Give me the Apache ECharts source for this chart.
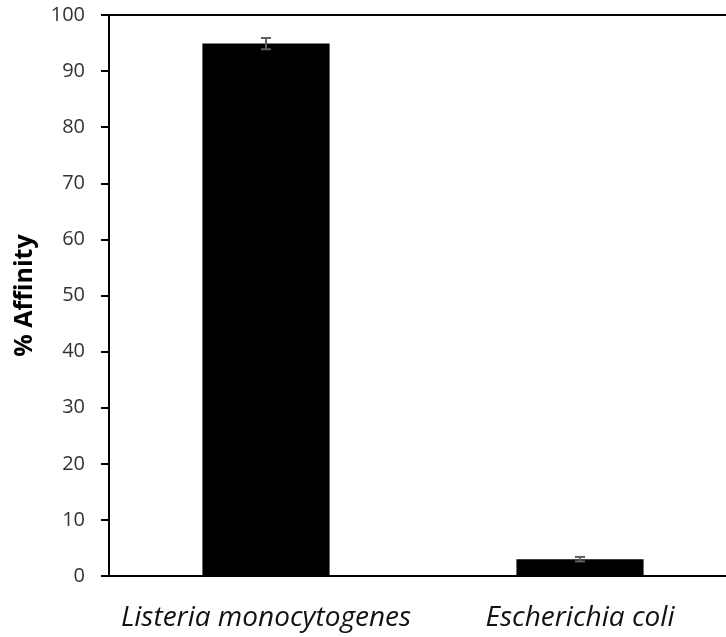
<!DOCTYPE html>
<html>
<head>
<meta charset="utf-8">
<script src="https://cdn.jsdelivr.net/npm/echarts@6/dist/echarts.min.js"></script>
<style>
  html, body { margin: 0; padding: 0; background: #fff; overflow: hidden; }
  /* the original figure is cropped on the right, so the chart is a bit wider than the window */
  #chart { width: 737px; height: 637px; }
</style>
</head>
<body>
<div id="chart"></div>
<script>
let myChart = echarts.init(document.getElementById('chart'));

// data
const categories = ['Listeria monocytogenes', 'Escherichia coli'];
const affinity = [94.9, 3.0];
const errors = [1.0, 0.4];

const errorData = categories.map((c, i) => [i, affinity[i] - errors[i], affinity[i] + errors[i]]);

let option = {
    animation: false,
    grid: {
        left: 109,
        top: 15,
        bottom: 61,
        right: 0,
        show: true,
        borderColor: '#000',
        borderWidth: 2
    },
    xAxis: {
        type: 'category',
        data: categories,
        axisLine: { lineStyle: { color: '#000', width: 2 } },
        axisTick: { show: false },
        axisLabel: {
            interval: 0,
            margin: 28,
            fontFamily: 'Open Sans',
            fontStyle: 'italic',
            fontSize: 28,
            color: '#111'
        }
    },
    yAxis: {
        type: 'value',
        min: 0,
        max: 100,
        interval: 10,
        name: '% Affinity',
        nameLocation: 'middle',
        nameGap: 72,
        nameTextStyle: {
            fontFamily: 'Open Sans',
            fontWeight: 'bold',
            fontSize: 25,
            color: '#000'
        },
        axisLine: { show: true, lineStyle: { color: '#000', width: 2 } },
        axisTick: { show: true, length: 8, lineStyle: { color: '#000', width: 2 } },
        splitLine: { show: false },
        axisLabel: {
            margin: 24,
            fontFamily: 'Open Sans',
            fontSize: 20,
            color: '#333'
        }
    },
    series: [
        {
            type: 'bar',
            data: affinity,
            barWidth: '40.5%',
            itemStyle: { color: '#000' }
        },
        {
            type: 'custom',
            data: errorData,
            z: 10,
            renderItem: function (params, api) {
                const x = api.value(0);
                const lo = api.coord([x, api.value(1)]);
                const hi = api.coord([x, api.value(2)]);
                const half = 5;
                const style = { stroke: '#606060', lineWidth: 2 };
                return {
                    type: 'group',
                    children: [
                        { type: 'line', shape: { x1: lo[0], y1: lo[1], x2: hi[0], y2: hi[1] }, style: style },
                        { type: 'line', shape: { x1: lo[0] - half, y1: lo[1], x2: lo[0] + half, y2: lo[1] }, style: style },
                        { type: 'line', shape: { x1: hi[0] - half, y1: hi[1], x2: hi[0] + half, y2: hi[1] }, style: style }
                    ]
                };
            }
        }
    ]
};

myChart.setOption(option);
</script>
</body>
</html>
